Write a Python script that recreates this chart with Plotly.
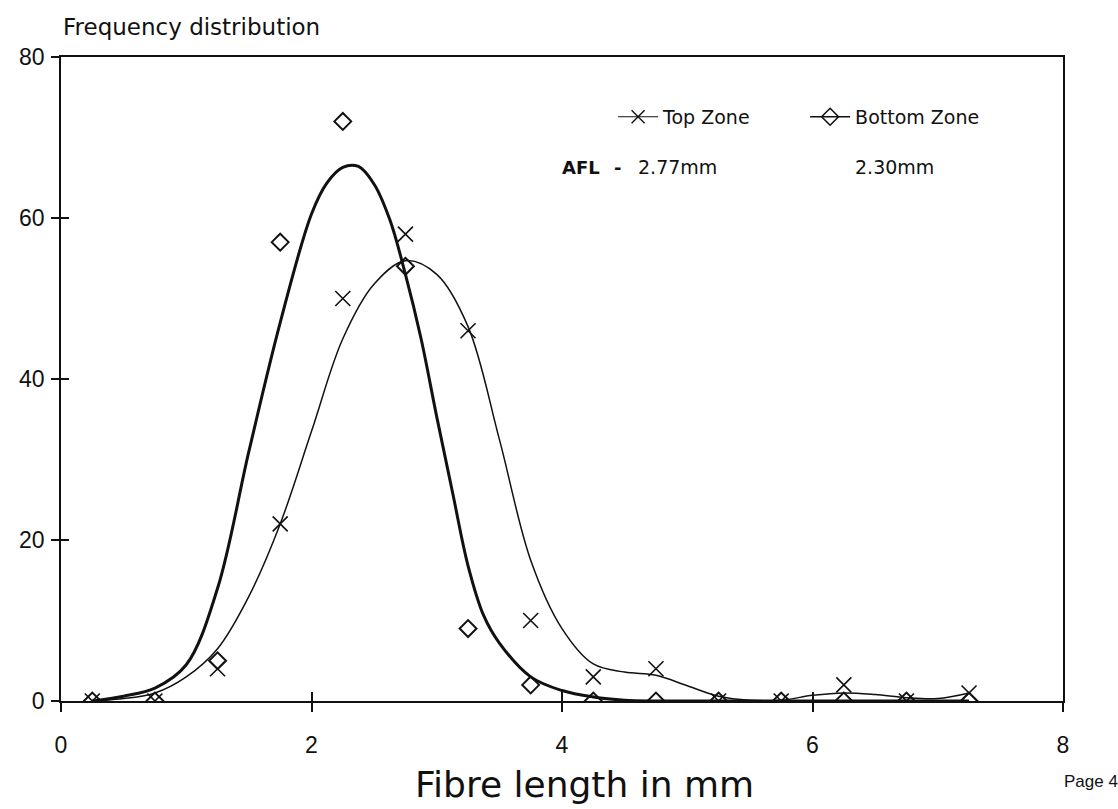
import plotly.graph_objects as go

# Measured frequencies per 0.5 mm length class (class mid-points)
length_mm = [0.25, 0.75, 1.25, 1.75, 2.25, 2.75, 3.25, 3.75, 4.25, 4.75, 5.25, 5.75, 6.25, 6.75, 7.25]
top_zone = [0, 0, 4, 22, 50, 58, 46, 10, 3, 4, 0, 0, 2, 0, 1]
bottom_zone = [0, 0, 5, 57, 72, 54, 9, 2, 0, 0, 0, 0, 0, 0, 0]

# Smoothed distribution curves
top_curve_x = [0.25, 0.5, 0.75, 1.0, 1.25, 1.5, 1.75, 2.0, 2.25, 2.5, 2.75, 3.0, 3.25, 3.5,
               3.75, 4.0, 4.25, 4.5, 4.75, 5.0, 5.25, 5.5, 5.75, 6.0, 6.25, 6.5, 6.75, 7.0, 7.25]
top_curve = [0, 0.3, 1.0, 3.0, 6.5, 13, 22, 33.5, 45, 51.8, 54.7, 53.0, 46.5, 32.5,
             17.5, 9.0, 4.6, 3.6, 3.2, 1.9, 0.6, 0.1, 0.1, 0.7, 1.0, 0.8, 0.4, 0.3, 1.0]
bottom_curve_x = [0.25, 0.5, 0.75, 1.0, 1.25, 1.5, 1.75, 2.0, 2.125, 2.25, 2.375, 2.5, 2.625,
                  2.75, 2.875, 3.0, 3.125, 3.25, 3.375, 3.5, 3.75, 4.0, 4.25, 4.5, 4.75,
                  5.25, 5.75, 6.25, 6.75, 7.25]
bottom_curve = [0, 0.6, 1.6, 4.5, 14, 31, 47, 60.5, 64.4, 66.3, 66.4, 64.2, 59.8,
                53, 45, 35.3, 26, 16.8, 10.6, 7.2, 3.0, 1.3, 0.5, 0.1, 0,
                0, 0, 0, 0, 0]

x_ticks = [0, 2, 4, 6, 8]
y_ticks = [0, 20, 40, 60, 80]

INK = "#111111"
FONT = "Liberation Sans, Arial, sans-serif"
WIDE = "DejaVu Sans, Verdana, sans-serif"

fig = go.Figure()

# fitted curves
fig.add_trace(go.Scatter(x=top_curve_x, y=top_curve, mode="lines",
                         line=dict(color=INK, width=1.5, shape="spline", smoothing=1.0),
                         showlegend=False, hoverinfo="skip"))
fig.add_trace(go.Scatter(x=bottom_curve_x, y=bottom_curve, mode="lines",
                         line=dict(color=INK, width=3, shape="spline", smoothing=1.0),
                         showlegend=False, hoverinfo="skip"))

# measured points
fig.add_trace(go.Scatter(x=length_mm, y=top_zone, mode="markers",
                         marker=dict(symbol="x-thin-open", size=15, color=INK,
                                     line=dict(color=INK, width=1.6)),
                         showlegend=False, name="Top Zone"))
fig.add_trace(go.Scatter(x=length_mm, y=bottom_zone, mode="markers",
                         marker=dict(symbol="diamond-open", size=13, color=INK,
                                     line=dict(color=INK, width=2)),
                         showlegend=False, name="Bottom Zone"))

# legend entries (line + marker glyphs)
fig.add_trace(go.Scatter(x=[None], y=[None], mode="lines+markers", name="Top Zone",
                         line=dict(color=INK, width=1.2),
                         marker=dict(symbol="x-thin-open", size=13, color=INK,
                                     line=dict(color=INK, width=1.4))))
fig.add_trace(go.Scatter(x=[None], y=[None], mode="lines+markers", name="Bottom Zone",
                         line=dict(color=INK, width=1.6),
                         marker=dict(symbol="diamond-open", size=13, color=INK,
                                     line=dict(color=INK, width=1.6))))

# inner half of the crossing tick marks
fig.add_trace(go.Scatter(x=[None], y=[None], xaxis="x2", yaxis="y2",
                         showlegend=False, hoverinfo="skip"))

axis_common = dict(showgrid=False, zeroline=False, linecolor=INK, linewidth=1.5,
                   tickcolor=INK, tickwidth=1.5, ticks="outside")

fig.update_layout(
    width=1118, height=809,
    margin=dict(l=61, r=55, t=57, b=108),
    paper_bgcolor="white", plot_bgcolor="white",
    font=dict(family=FONT, color=INK),
    xaxis=dict(range=[0, 8], tickvals=x_ticks, ticklen=9, mirror=True,
               tickfont=dict(size=23, family=FONT, color=INK), ticklabelstandoff=14,
               **axis_common),
    yaxis=dict(range=[0, 80], tickvals=y_ticks, ticklen=8, mirror=True,
               tickfont=dict(size=23, family=FONT, color=INK), ticklabelstandoff=2,
               **axis_common),
    xaxis2=dict(range=[0, 8], tickvals=x_ticks[1:-1], overlaying="x", anchor="y2",
                showgrid=False, zeroline=False, showline=False, ticks="inside",
                ticklen=9, tickwidth=1.5, tickcolor=INK, showticklabels=False),
    yaxis2=dict(range=[0, 80], tickvals=y_ticks[1:-1], overlaying="y", anchor="x2",
                showgrid=False, zeroline=False, showline=False, ticks="inside",
                ticklen=8, tickwidth=1.5, tickcolor=INK, showticklabels=False),
    legend=dict(orientation="h", x=0.551, y=0.907, xanchor="left", yanchor="middle",
                font=dict(size=19, family=WIDE, color=INK), bgcolor="rgba(0,0,0,0)",
                entrywidth=137, itemwidth=40, tracegroupgap=0),
    showlegend=True,
)

annotations = [
    dict(text="Frequency distribution", xref="paper", yref="paper", x=0.0, y=1.047,
         xanchor="left", yanchor="middle", showarrow=False,
         font=dict(size=23, family=WIDE)),
    dict(text="Fibre length in mm", xref="paper", yref="paper", x=0.522, y=-0.13,
         xanchor="center", yanchor="middle", showarrow=False,
         font=dict(size=36, family=WIDE)),
    dict(text="Page 4", xref="paper", yref="paper", x=0.999, y=-0.125,
         xanchor="left", yanchor="middle", showarrow=False, font=dict(size=17)),
    dict(text="<b>AFL</b>", xref="x", yref="y", x=3.98, y=66.3, xanchor="left",
         yanchor="middle", showarrow=False, font=dict(size=18, family=WIDE)),
    dict(text="<b>-</b>", xref="x", yref="y", x=4.40, y=66.3, xanchor="left",
         yanchor="middle", showarrow=False, font=dict(size=18, family=WIDE)),
    dict(text="2.77mm", xref="x", yref="y", x=4.59, y=66.3, xanchor="left",
         yanchor="middle", showarrow=False, font=dict(size=19, family=WIDE)),
    dict(text="2.30mm", xref="x", yref="y", x=6.32, y=66.3, xanchor="left",
         yanchor="middle", showarrow=False, font=dict(size=19, family=WIDE)),
]
fig.update_layout(annotations=annotations)

fig.write_html("out.html")
